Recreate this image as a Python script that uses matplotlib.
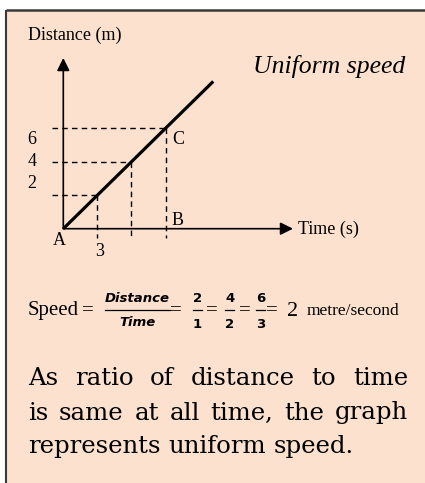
import matplotlib
matplotlib.use("Agg")
import matplotlib.pyplot as plt

# distance-time readings marked on the graph
times = [1, 2, 3]
distances = [2, 4, 6]
line_t = [0, 4.4]
line_d = [0, 8.8]
x_max, y_max = 6.74, 10.2

paragraph = [
    "As ratio of distance to time",
    "is same at all time, the graph",
    "represents uniform speed.",
]

W, H = 425, 483
fig = plt.figure(figsize=(W / 100, H / 100), dpi=100)
fig.patch.set_facecolor("white")

# overlay in pixel units for the panel, captions and formula
ov = fig.add_axes([0, 0, 1, 1])
ov.set_xlim(0, W)
ov.set_ylim(H, 0)
ov.axis("off")
ov.add_patch(plt.Rectangle((6, 10), W, H, facecolor="#fce2ce", edgecolor="none", clip_on=False))
ov.plot([6.5, 6.5], [10, H + 5], color="#3a3a3a", lw=1.5, solid_capstyle="butt", clip_on=False)
ov.plot([6, W + 5], [10, 10], color="#3a3a3a", lw=1.8, solid_capstyle="butt", clip_on=False)

serif = "Liberation Serif"
ov.text(28, 39.5, "Distance (m)", family=serif, fontsize=13, va="baseline")
ov.text(253, 73, "Uniform speed", family=serif, style="italic", fontsize=18.5, va="baseline")
ov.text(298, 234, "Time (s)", family=serif, fontsize=13, va="baseline")
for lbl, x, y in [("6", 32, 143.5), ("4", 32, 166), ("2", 32, 188.5), ("3", 100, 256.5), ("A", 59, 245)]:
    ov.text(x, y, lbl, family=serif, fontsize=13, va="baseline", ha="center")
ov.text(172, 225, "B", family=serif, fontsize=13, va="baseline")
ov.text(172, 143.5, "C", family=serif, fontsize=13, va="baseline")

# speed formula
ov.text(28, 315.5, "Speed", family=serif, fontsize=15, va="baseline")
ov.text(82, 315.5, "=", family=serif, fontsize=15, va="baseline")
frac_kw = dict(family="DejaVu Sans", fontweight="bold", fontsize=9.5, ha="center", va="center")
ov.text(137, 298, "Distance", style="italic", **frac_kw)
ov.text(137, 322.5, "Time", style="italic", **frac_kw)
ov.plot([105, 170], [310, 310], color="black", lw=0.9)
ov.text(170.5, 315.5, "=", family=serif, fontsize=15, va="baseline")
for cx, (n, d) in zip([197.5, 230, 261], [("2", "1"), ("4", "2"), ("6", "3")]):
    ov.text(cx, 299, n, **frac_kw)
    ov.text(cx, 324, d, **frac_kw)
    ov.plot([cx - 4.5, cx + 4.5], [310, 310], color="black", lw=0.9)
for ex in [206, 239.5, 266]:
    ov.text(ex, 315.5, "=", family=serif, fontsize=15, va="baseline")
ov.text(287, 316.5, "2", family=serif, fontsize=16, va="baseline")
ov.text(307, 315, "metre/second", family=serif, fontsize=12.5, va="baseline")

# justified paragraph
fig.canvas.draw()
renderer = fig.canvas.get_renderer()
para_kw = dict(family="DejaVu Serif", fontsize=17.6, va="baseline")
baselines = [385, 419.5, 453]
for i, (line, y) in enumerate(zip(paragraph, baselines)):
    words = line.split()
    texts = [ov.text(0, y, w, **para_kw) for w in words]
    widths = [t.get_window_extent(renderer).width for t in texts]
    if i < len(paragraph) - 1:
        gap = (408 - 28 - sum(widths)) / (len(words) - 1)
    else:
        space = ov.text(0, y, "a a", **para_kw)
        single = ov.text(0, y, "aa", **para_kw)
        gap = space.get_window_extent(renderer).width - single.get_window_extent(renderer).width
        space.remove()
        single.remove()
    x = 28
    for t, w in zip(texts, widths):
        t.set_x(x)
        x += w + gap

# distance-time graph
ox, oy = 63.3, 228.7
ax = fig.add_axes([ox / W, (H - oy) / H, 229.7 / W, 170.7 / H])
ax.set_xlim(0, x_max)
ax.set_ylim(0, y_max)
ax.axis("off")
ax.patch.set_alpha(0)

arrow = dict(arrowstyle="-|>", color="black", lw=1.2, mutation_scale=19, shrinkA=0, shrinkB=0)
ax.annotate("", xy=(x_max, 0), xytext=(0, 0), arrowprops=arrow, annotation_clip=False)
ax.annotate("", xy=(0, y_max), xytext=(0, 0), arrowprops=arrow, annotation_clip=False)

dash = dict(color="black", lw=1.0, linestyle=(0, (4, 3)), clip_on=False)
for t, d in zip(times, distances):
    ax.plot([-0.34, t], [d, d], **dash)
    ax.plot([t, t], [d, -0.56], **dash)

ax.plot(line_t, line_d, color="black", lw=2.3, solid_capstyle="butt", clip_on=False)

fig.savefig("out.png", dpi=100)
